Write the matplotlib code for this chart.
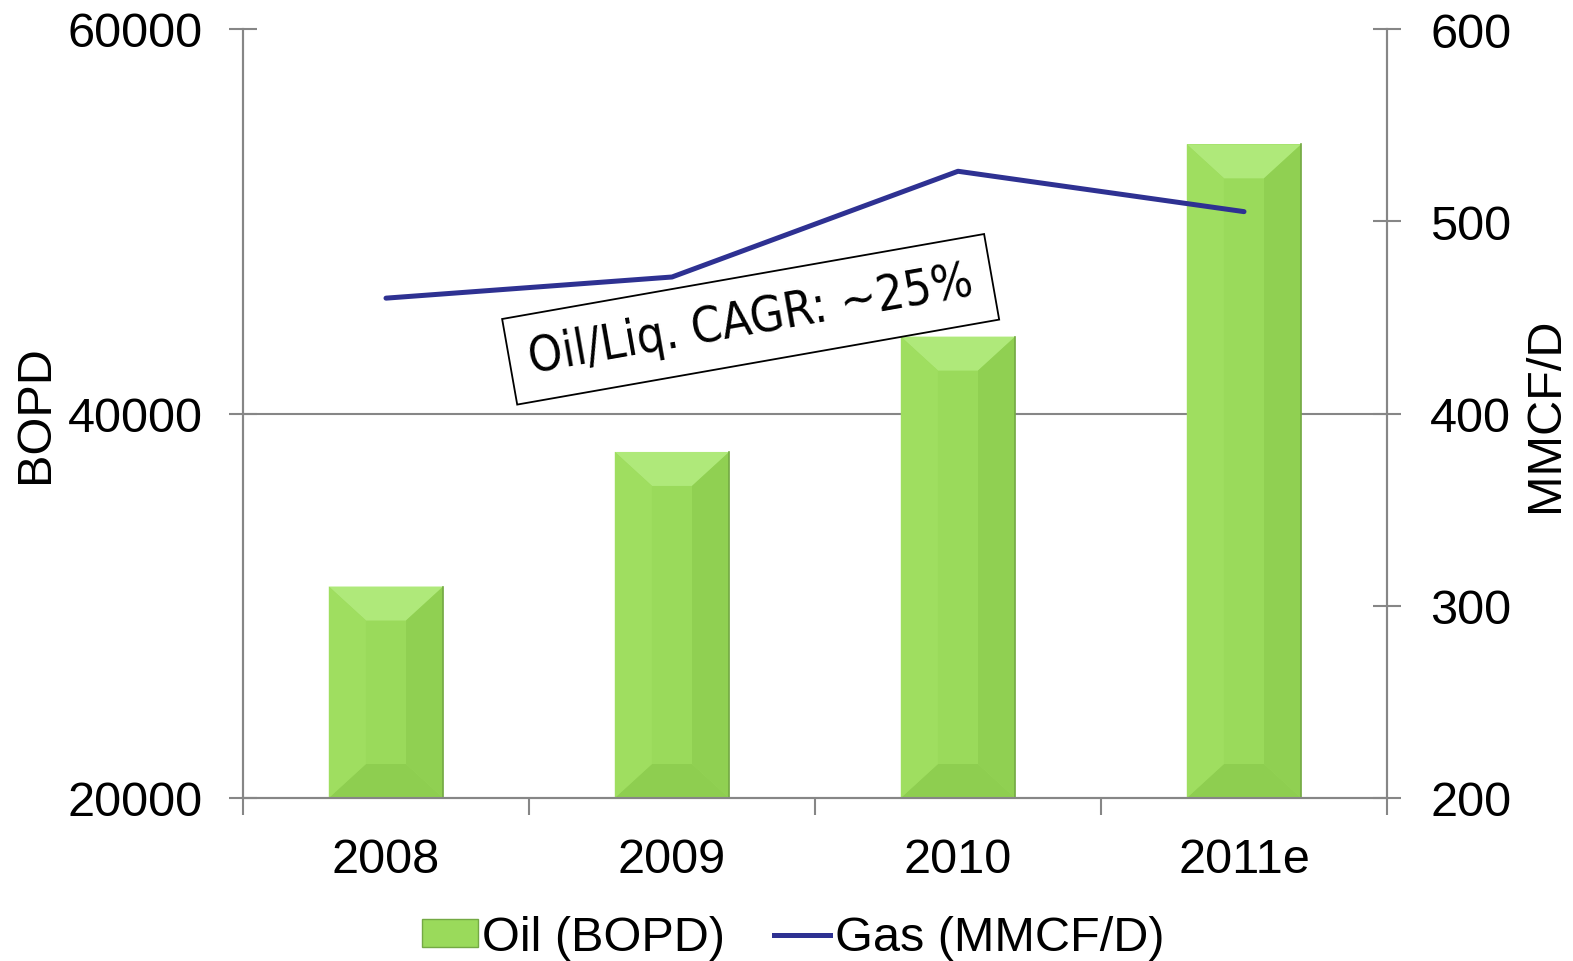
import matplotlib.pyplot as plt
from matplotlib.patches import Polygon, Patch
from matplotlib.lines import Line2D

plt.rcParams['font.family'] = ['Liberation Sans', 'DejaVu Sans']

# Datos
years = ["2008", "2009", "2010", "2011e"]
oil_bopd = [31000, 38000, 44000, 54000]
gas_mmcfd = [460, 471, 526, 505]
oil_ticks = [20000, 40000, 60000]
gas_ticks = [200, 300, 400, 500, 600]
note = "Oil/Liq. CAGR: ~25%"

# Colores
green = "#9ADA5B"
green_top = "#AFE97A"
green_left = "#9FDE60"
green_right = "#90D052"
green_bottom = "#8ECE50"
green_edge = "#74A944"
blue = "#2E3192"
gray = "#868686"
fs = 35

fig = plt.figure(figsize=(15.73, 9.62), dpi=100)
ax = fig.add_axes([243 / 1573, 1 - 799 / 962, 1144 / 1573, 769 / 962])
ax2 = ax.twinx()

x = list(range(len(years)))
y_min, y_max = oil_ticks[0], oil_ticks[-1]

# Barras de petroleo con efecto biselado
bars = ax.bar(x, [v - y_min for v in oil_bopd], bottom=y_min, width=0.4,
              color=green, edgecolor="none", zorder=2)
dx = 0.13
dy = (y_max - y_min) * 34 / 769
for b in bars:
    x0, x1 = b.get_x(), b.get_x() + b.get_width()
    y0, y1 = b.get_y(), b.get_y() + b.get_height()
    faces = [
        ([(x0, y1), (x1, y1), (x1 - dx, y1 - dy), (x0 + dx, y1 - dy)], green_top),
        ([(x0, y0), (x1, y0), (x1 - dx, y0 + dy), (x0 + dx, y0 + dy)], green_bottom),
        ([(x0, y0), (x0 + dx, y0 + dy), (x0 + dx, y1 - dy), (x0, y1)], green_left),
        ([(x1, y0), (x1 - dx, y0 + dy), (x1 - dx, y1 - dy), (x1, y1)], green_right),
    ]
    for pts, c in faces:
        ax.add_patch(Polygon(pts, closed=True, facecolor=c, edgecolor="none", zorder=3))
    ax.plot([x1, x1], [y0, y1], color=green_edge, lw=1.2, zorder=4)

# Linea de gas
ax2.plot(x, gas_mmcfd, color=blue, lw=3.6, solid_capstyle="round", zorder=5)

# Ejes
ax.set_xlim(-0.5, len(years) - 0.5)
ax.set_ylim(y_min, y_max)
ax2.set_ylim(gas_ticks[0], gas_ticks[-1])
ax.set_yticks(oil_ticks)
ax2.set_yticks(gas_ticks)
ax.axhline(40000, color=gray, lw=1.5, zorder=1)

ax.set_xticks([i - 0.5 for i in range(len(years) + 1)])
ax.set_xticklabels([])
ax.set_xticks(x, minor=True)
ax.set_xticklabels(years, minor=True)
ax.tick_params(axis="x", which="major", direction="out", length=12, width=1.5, color=gray)
ax.tick_params(axis="x", which="minor", length=0, pad=28, labelsize=fs)
ax.tick_params(axis="y", direction="inout", length=20, width=1.5, color=gray, pad=19, labelsize=fs)
ax2.tick_params(axis="y", direction="inout", length=20, width=1.5, color=gray, pad=21, labelsize=fs)

for a in (ax, ax2):
    a.spines["top"].set_visible(False)
    for s in ("left", "right", "bottom"):
        a.spines[s].set_color(gray)
        a.spines[s].set_linewidth(1.5)

ax.set_ylabel("BOPD", fontsize=fs)
ax.yaxis.set_label_coords(-0.162, 0.5)
ax2.set_ylabel("MMCF/D", fontsize=fs)
ax2.yaxis.set_label_coords(1.119, 0.5)

# Cuadro de texto CAGR
ax.text(1.275, 44900, note, family="DejaVu Sans", fontstretch="condensed",
        fontsize=35, rotation=10, rotation_mode="anchor", ha="center", va="center",
        zorder=6, bbox=dict(boxstyle="square,pad=0.4", facecolor="white",
                            edgecolor="black", lw=1.3))

# Leyenda
handles = [
    Patch(facecolor=green, edgecolor=green_edge, lw=1),
    Line2D([0], [0], color=blue, lw=3.6),
]
fig.legend(handles, ["Oil (BOPD)", "Gas (MMCF/D)"], loc="center",
           bbox_to_anchor=(793 / 1573, 1 - 939 / 962), ncol=2, frameon=False,
           fontsize=fs, handlelength=1.15, handleheight=0.5, handletextpad=0.1,
           columnspacing=1.0)

fig.savefig("out.png", dpi=100)
